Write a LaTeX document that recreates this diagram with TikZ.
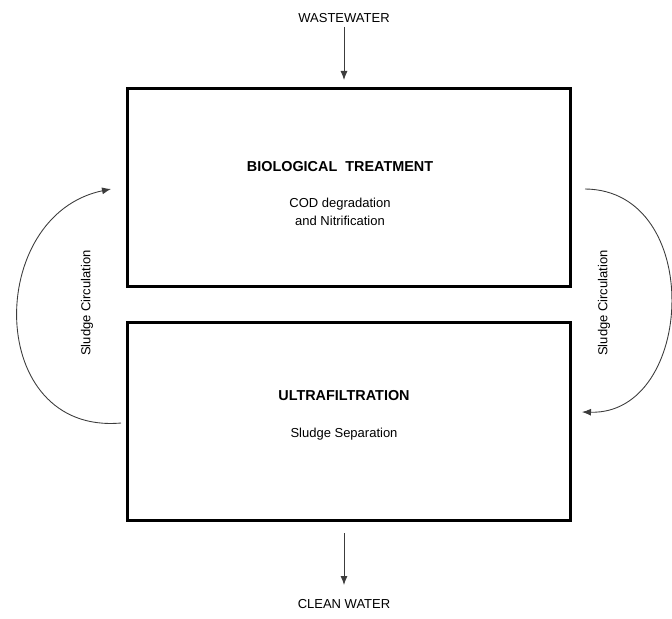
\documentclass[tikz,border=0pt]{standalone}
\usepackage{fontspec}
\setmainfont{Liberation Sans}
\usepackage{tikz}
\usetikzlibrary{arrows.meta}
\definecolor{linegray}{RGB}{60, 60, 60}

\tikzset{
  stage/.style = {draw, line width = 1.6pt, minimum width = 8.86cm, minimum height = 3.96cm, inner sep = 0pt},
  lbl/.style = {font = \fontsize{7.4}{9}\selectfont, inner sep = 0pt},
  head/.style = {font = \fontsize{8.2}{10}\bfseries, inner sep = 0pt},
  flow/.style = {draw = linegray, line width = 0.5pt, -{Latex[length = 0.18cm, width = 0.14cm]}}
}

\begin{document}
\begin{tikzpicture}[x = 0.02cm, y = -0.02cm]
			\useasboundingbox (0,0) rectangle (672,618);
			\node (bio) at (349,187.5) [stage] {};
			\node (uf) at (349,421.5) [stage] {};
			\node (ww) at (344,18) [lbl] {WASTEWATER};
			\node (cw) at (344,604) [lbl] {CLEAN WATER};
			\node (biot) at (340,167) [head] {BIOLOGICAL\ \ TREATMENT};
			\node (cod) at (340,204) [lbl] {COD degradation};
			\node (nit) at (340,221) [lbl] {and Nitrification};
			\node (uft) at (344,396) [head] {ULTRAFILTRATION};
			\node (sep) at (344,434) [lbl] {Sludge Separation};
			\node (lc) at (87,303) [lbl, rotate = 90] {Sludge Circulation};
			\node (rc) at (604,303) [lbl, rotate = 90] {Sludge Circulation};
			\coordinate (wtop) at (344,27);
			\coordinate (win) at (344,80);
			\coordinate (cout) at (344,533);
			\coordinate (cend) at (344,585);
			\coordinate (l0) at (121,423);
			\coordinate (l1) at (111,189);
			\coordinate (r0) at (585,189);
			\coordinate (r1) at (582,412);
			\draw [flow] (wtop) -- (win);
			\draw [flow] (cout) -- (cend);
			\draw [flow] (l0) .. controls (-15,435) and (-15,215) .. (l1);
			\draw [flow] (r0) .. controls (705,190) and (695,415) .. (r1);
			\end{tikzpicture}
\end{document}
